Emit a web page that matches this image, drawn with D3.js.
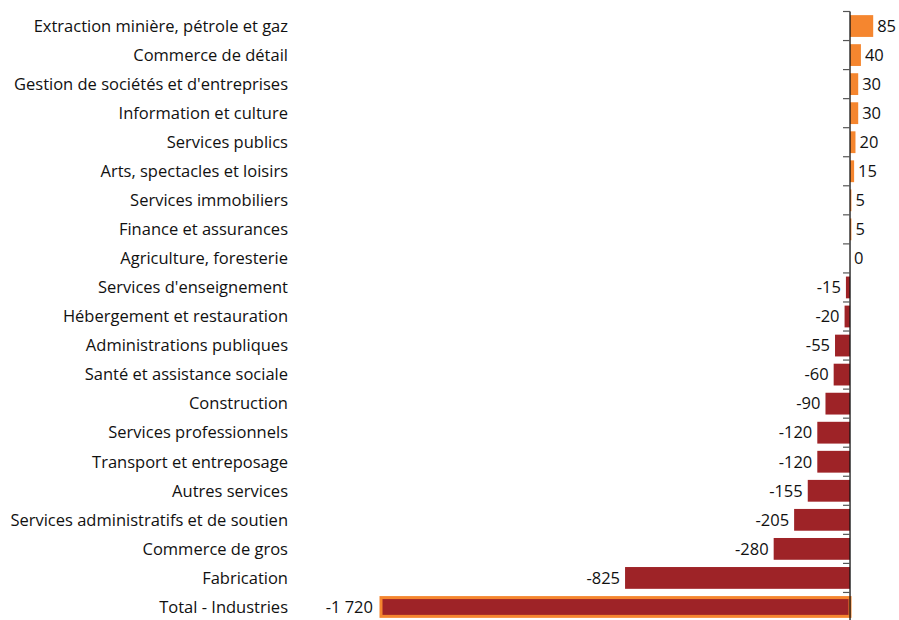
<!DOCTYPE html>
<html><head><meta charset="utf-8">
<script src="https://cdn.jsdelivr.net/npm/d3@7/dist/d3.min.js"></script>
<style>body{margin:0;background:#fff}svg{display:block}text{font-family:"Open Sans","Liberation Sans",sans-serif;fill:#111;font-variant-ligatures:none}</style>
</head><body><svg id="c" width="899" height="620"></svg>
<script>
const categories = ["Extraction minière, pétrole et gaz","Commerce de détail","Gestion de sociétés et d'entreprises","Information et culture","Services publics","Arts, spectacles et loisirs","Services immobiliers","Finance et assurances","Agriculture, foresterie","Services d'enseignement","Hébergement et restauration","Administrations publiques","Santé et assistance sociale","Construction","Services professionnels","Transport et entreposage","Autres services","Services administratifs et de soutien","Commerce de gros","Fabrication","Total - Industries"];
const values = [85,40,30,30,20,15,5,5,0,-15,-20,-55,-60,-90,-120,-120,-155,-205,-280,-825,-1720];
const totalCategory = "Total - Industries";

const svg = d3.select("#c");
const x = d3.scaleLinear().domain([-1720, 85]).range([381, 873.2]);
const y = d3.scaleBand().domain(categories).range([11.5, 621.5]).paddingInner(0.25).paddingOuter(0.125);
const fmt = d3.formatLocale({decimal:",", thousands:"\u00a0", grouping:[3], currency:["","$"], minus:"-"}).format(",d");
const data = categories.map((c,i)=>({c, v: values[i]}));
const pos = "#f5862f", neg = "#9e2327";

svg.selectAll("rect.bar").data(data).join("rect").attr("class","bar")
  .attr("x", d => x(Math.min(0,d.v)))
  .attr("width", d => Math.abs(x(d.v)-x(0)))
  .attr("y", d => y(d.c) + (d.c===totalCategory?1.5:0))
  .attr("height", d => y.bandwidth() - (d.c===totalCategory?3:0))
  .attr("fill", d => d.v >= 0 ? pos : neg)
  .attr("stroke", d => d.c===totalCategory ? pos : "none")
  .attr("stroke-width", 3);

// axis
const step = y.step();
const bounds = d3.range(categories.length+1).map(i => 11.5 + i*step);
svg.append("line").attr("x1", x(0)).attr("x2", x(0)).attr("y1", 11.5).attr("y2", 621.5).attr("stroke","#111").attr("stroke-width",1.3);
svg.selectAll("line.tick").data(bounds).join("line").attr("class","tick")
  .attr("x1", x(0)-7).attr("x2", x(0)).attr("y1", d=>d).attr("y2", d=>d).attr("stroke","#555").attr("stroke-width",1.2);

// category labels
svg.selectAll("text.cat").data(data).join("text").attr("class","cat")
  .attr("x", 288).attr("y", d => y(d.c)+y.bandwidth()/2).attr("dy","0.35em")
  .attr("text-anchor","end").attr("font-size",16.5).text(d=>d.c);

// value labels
svg.selectAll("text.val").data(data).join("text").attr("class","val")
  .attr("x", d => d.v >= 0 ? x(d.v)+4 : x(d.v)-5 - (d.c===totalCategory?3:0))
  .attr("y", d => y(d.c)+y.bandwidth()/2).attr("dy","0.35em")
  .attr("text-anchor", d => d.v >= 0 ? "start" : "end")
  .attr("font-size",16.5).text(d => fmt(d.v));
</script></body></html>
